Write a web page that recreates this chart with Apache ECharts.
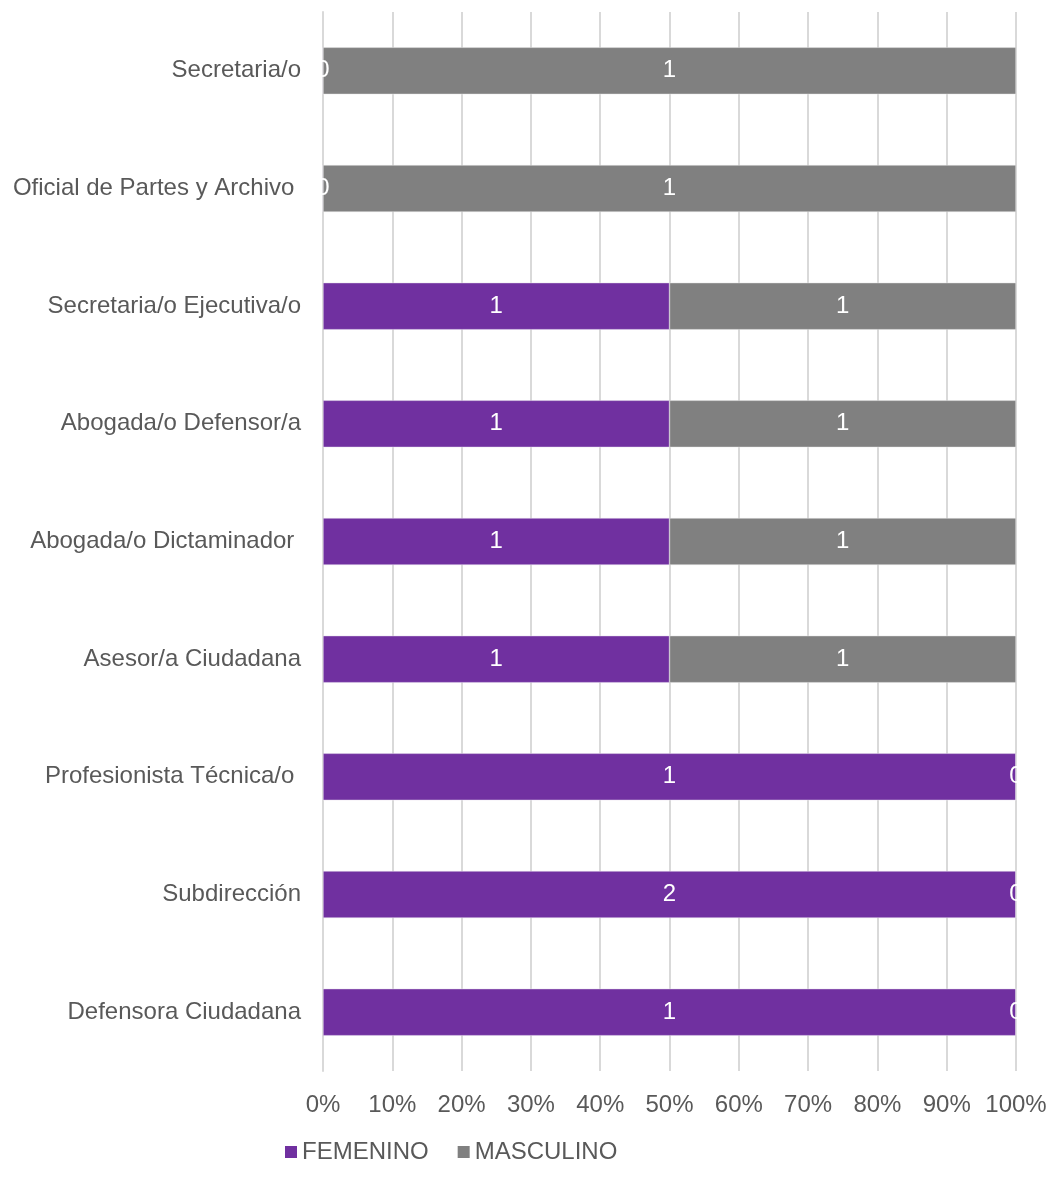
<!DOCTYPE html>
<html><head><meta charset="utf-8">
<script src="https://cdn.jsdelivr.net/npm/echarts@6/dist/echarts.min.js"></script>
<style>html,body{margin:0;padding:0;background:#fff}#c{width:1050px;height:1190px}</style>
</head><body><div id="c"></div>
<script>
var categories = ['Secretaria/o', 'Oficial de Partes y Archivo ', 'Secretaria/o Ejecutiva/o', 'Abogada/o Defensor/a', 'Abogada/o Dictaminador ', 'Asesor/a Ciudadana', 'Profesionista Técnica/o ', 'Subdirección', 'Defensora Ciudadana'];
var femenino = [0, 0, 1, 1, 1, 1, 1, 2, 1];
var masculino = [1, 1, 1, 1, 1, 1, 0, 0, 0];
var tickLabels = ['0%','10%','20%','30%','40%','50%','60%','70%','80%','90%','100%'];

function pct(arr, i) { var t = femenino[i] + masculino[i]; return t ? arr[i] / t * 100 : 0; }
var fData = femenino.map(function (v, i) { return { value: pct(femenino, i), raw: v }; });
var mData = masculino.map(function (v, i) { return { value: pct(masculino, i), raw: v }; });

var FONT = 'Liberation Sans, Arial, sans-serif';
var FS = 24;
var chart = echarts.init(document.getElementById('c'));
var lab = { show: true, position: 'inside', color: '#fff', fontSize: FS, fontFamily: FONT,
  formatter: function (p) { return p.data.raw; } };
chart.setOption({
  animation: false,
  grid: { left: 323, right: 34, top: 12, bottom: 119, containLabel: false },
  legend: { left: 280, top: 1135, itemWidth: 12, itemHeight: 12, itemGap: 29, icon: 'rect',
    itemStyle: { borderWidth: 0 },
    textStyle: { color: '#595959', fontSize: FS, fontFamily: FONT },
    data: ['FEMENINO', 'MASCULINO'] },
  xAxis: { type: 'value', min: 0, max: 100, interval: 10,
    axisLabel: { color: '#595959', fontSize: FS, fontFamily: FONT, margin: 22,
      formatter: function (v) { return tickLabels[Math.round(v / 10)]; } },
    splitLine: { show: true, lineStyle: { color: '#d9d9d9', width: 2 } },
    axisLine: { show: false }, axisTick: { show: false } },
  yAxis: { type: 'category', data: categories, inverse: true,
    axisLabel: { color: '#595959', fontSize: FS, fontFamily: FONT, margin: 22 },
    axisLine: { show: true, lineStyle: { color: '#d9d9d9', width: 2 } },
    axisTick: { show: false } },
  series: [
    { name: 'FEMENINO', type: 'bar', stack: 'a', barWidth: 47, data: fData,
      itemStyle: { color: '#7030A0', borderColor: '#e8e0ee', borderWidth: 0.5 }, label: lab },
    { name: 'MASCULINO', type: 'bar', stack: 'a', barWidth: 47, data: mData,
      itemStyle: { color: '#808080', borderColor: '#e8e8e8', borderWidth: 0.5 }, label: lab }
  ]
});
</script></body></html>
